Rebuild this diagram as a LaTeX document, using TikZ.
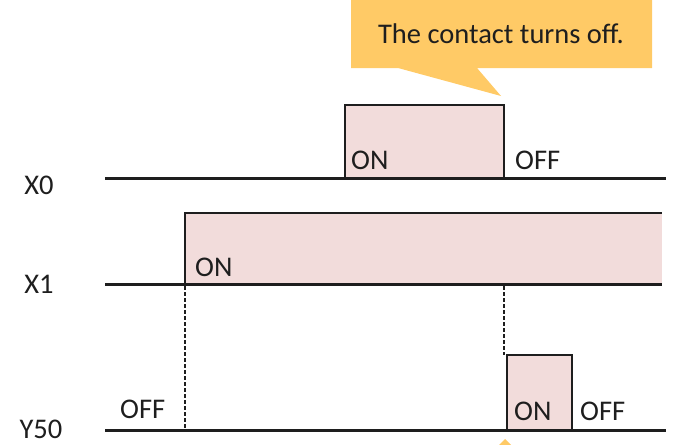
\documentclass[tikz,border=0pt]{standalone}
\usepackage{fontspec}
\setmainfont{Carlito}
\definecolor{pulsefill}{RGB}{242,220,219}
\definecolor{calloutfill}{RGB}{255,202,102}
\definecolor{ink}{RGB}{30,30,30}
\begin{document}
\begin{tikzpicture}[x=1pt,y=-1pt,
  sig/.style={line width=3pt, draw=ink},
  edge/.style={line width=2.6pt, draw=ink},
  guide/.style={line width=2pt, draw=ink, dash pattern=on 3.5pt off 2.5pt},
  txt/.style={font=\fontsize{28.5}{32}\selectfont, text=ink, inner sep=0pt},
  lbl/.style={txt, anchor=base west},
  signame/.style={txt, anchor=center}]
\useasboundingbox (0,0) rectangle (674,444);
\clip (0,0) rectangle (674,444);

% callout at the top
\fill[calloutfill] (351,-5) -- (652,-5) -- (652,68) -- (477,68) -- (501,96)
  -- (398,68) -- (351,68) -- cycle;
\node[txt] (note) at (501,34) {The contact turns off.};

% tip of a second callout at the bottom edge
\fill[calloutfill] (505,439) -- (530,464) -- (480,464) -- cycle;

% signal names
\node[signame] (nx0) at (39,185) {X0};
\node[signame] (nx1) at (39,284) {X1};
\node[signame] (ny50) at (41,429) {Y50};

% X0
\filldraw[fill=pulsefill, edge] (345,178) -- (345,105) -- (504,105) -- (504,178);
\draw[sig] (105,178) -- (666,178);
\node[lbl] (x0on) at (351,169) {ON};
\node[lbl] (x0off) at (515,169) {OFF};

% X1
\fill[pulsefill] (185,213) rectangle (662,284);
\draw[edge] (185,284) -- (185,213) -- (662,213);
\draw[sig] (105,284) -- (662,284);
\node[lbl] (x1on) at (195,276) {ON};

% Y50
\filldraw[fill=pulsefill, edge] (507,430) -- (507,355) -- (572,355) -- (572,430);
\draw[sig] (105,430) -- (666,430);
\node[lbl] (yoff1) at (120,418) {OFF};
\node[lbl] (yon) at (514,420) {ON};
\node[lbl] (yoff2) at (580,420) {OFF};

% guide lines
\draw[guide] (185,286) -- (185,428);
\draw[guide] (504,286) -- (504,355);
\end{tikzpicture}
\end{document}
